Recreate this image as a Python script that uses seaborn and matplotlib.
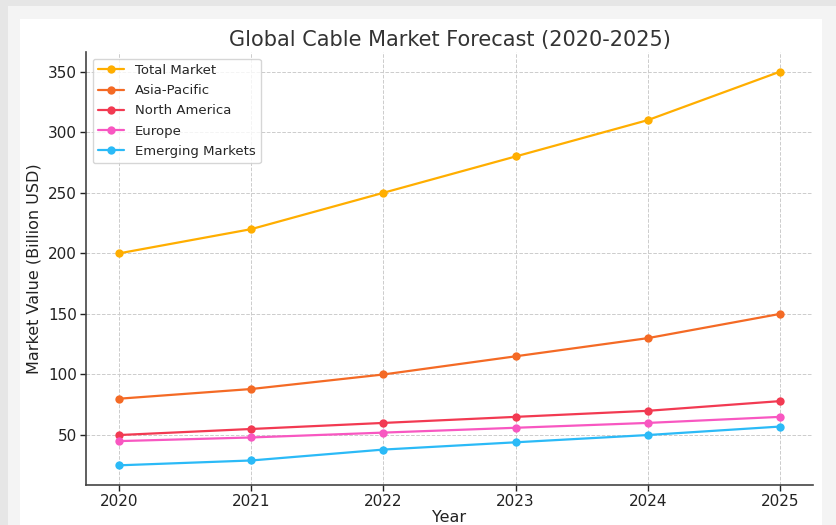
import pandas as pd
import matplotlib
matplotlib.use("Agg")
import matplotlib.pyplot as plt
import seaborn as sns
from matplotlib.patches import Rectangle

# ---- data ----
years = [2020, 2021, 2022, 2023, 2024, 2025]
total_market = [200, 220, 250, 280, 310, 350]
asia_pacific = [80, 88, 100, 115, 130, 150]
north_america = [50, 55, 60, 65, 70, 78]
europe = [45, 48, 52, 56, 60, 65]
emerging = [25, 29, 38, 44, 50, 57]

series = {
    "Total Market": total_market,
    "Asia-Pacific": asia_pacific,
    "North America": north_america,
    "Europe": europe,
    "Emerging Markets": emerging,
}
colors = {
    "Total Market": "#FFAE00",
    "Asia-Pacific": "#F46A25",
    "North America": "#F23A52",
    "Europe": "#F857C1",
    "Emerging Markets": "#2BBAF7",
}

df = pd.concat(
    [pd.DataFrame({"Year": years, "Value": v, "Region": k}) for k, v in series.items()],
    ignore_index=True,
)

# ---- plot ----
sns.set_style("whitegrid", {"grid.linestyle": "--", "grid.color": "#cccccc",
                            "axes.edgecolor": "#444444"})
plt.rcParams["font.family"] = ["DejaVu Sans"]

fig = plt.figure(figsize=(8.36, 5.25), dpi=100, facecolor="#e6e6e6")
# framed background
fig.patches.append(Rectangle((8 / 836, 0), 1, (525 - 6) / 525, transform=fig.transFigure,
                             facecolor="#f4f4f4", edgecolor="none", zorder=-2))
fig.patches.append(Rectangle((20 / 836, 0), 802 / 836, (525 - 19) / 525, transform=fig.transFigure,
                             facecolor="white", edgecolor="none", zorder=-1))

ax = fig.add_axes([86 / 836, 1 - 485 / 525, (813 - 86) / 836, (485 - 52) / 525])
ax.set_facecolor("white")

sns.lineplot(
    data=df, x="Year", y="Value", hue="Region", palette=colors,
    marker="o", markersize=6, markeredgewidth=0, linewidth=1.6, ax=ax,
)

ax.grid(True, linestyle="--", linewidth=0.7, color="#cccccc")
sns.despine(ax=ax)
for s in ["left", "bottom"]:
    ax.spines[s].set_linewidth(1.2)
    ax.spines[s].set_color("#444444")

ax.set_xticks(years)
ax.tick_params(axis="both", labelsize=11, colors="#222222", length=4.5, width=1, direction="out",
               left=True, bottom=True, pad=2)
ax.set_title("Global Cable Market Forecast (2020-2025)", fontsize=15, color="#333333", pad=4.5)
ax.set_xlabel("Year", fontsize=11.5, color="#222222", labelpad=1)
ax.set_ylabel("Market Value (Billion USD)", fontsize=11.5, color="#222222", labelpad=5)

leg = ax.legend(loc="upper left", fontsize=9.5, frameon=True, title=None,
                borderaxespad=0.5, labelspacing=0.55)
leg.get_frame().set_edgecolor("#cccccc")

fig.savefig("out.png", dpi=100, facecolor=fig.get_facecolor())
